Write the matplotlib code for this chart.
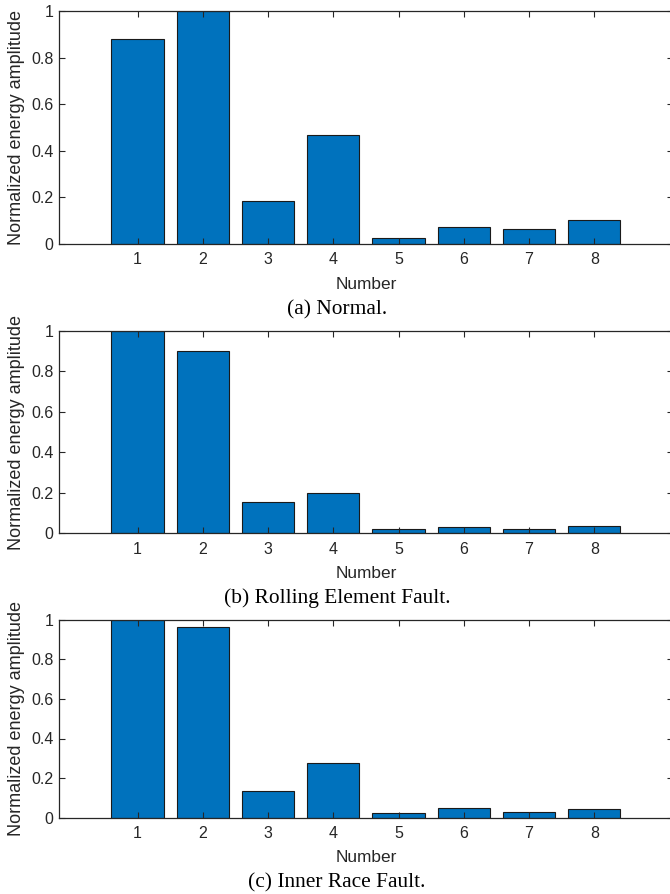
import matplotlib
matplotlib.use("Agg")
import matplotlib.pyplot as plt

numbers = [1, 2, 3, 4, 5, 6, 7, 8]
normal = [0.88, 1.00, 0.182, 0.465, 0.026, 0.073, 0.064, 0.102]
rolling_element = [1.00, 0.903, 0.155, 0.199, 0.023, 0.033, 0.023, 0.034]
inner_race = [1.00, 0.965, 0.136, 0.275, 0.022, 0.047, 0.029, 0.045]
y_ticks = [0, 0.2, 0.4, 0.6, 0.8, 1]
y_tick_labels = ["0", "0.2", "0.4", "0.6", "0.8", "1"]
captions = ["(a) Normal.", "(b) Rolling Element Fault.", "(c) Inner Race Fault."]

W, H = 670, 894
fig = plt.figure(figsize=(W / 100, H / 100), dpi=100)

BAR = "#0072BD"
INK = "#262626"
SANS = ["Liberation Sans", "Arial", "DejaVu Sans"]
SERIF = ["Liberation Serif", "Times New Roman", "DejaVu Serif"]

# pixel boxes (top, bottom) for each panel and y of caption / xlabel centres
panels = [
    (normal, 11.0, 243.7, 285, 310),
    (rolling_element, 331.0, 533.3, 574, 598),
    (inner_race, 619.7, 817.7, 858, 883),
]
left_px, right_px = 59.3, 672.6

for (vals, top, bot, xl_y, cap_y), cap in zip(panels, captions):
    ax = fig.add_axes([left_px / W, 1 - bot / H, (right_px - left_px) / W, (bot - top) / H])
    ax.bar(numbers, vals, width=0.8, color=BAR, edgecolor="#1a1a1a", linewidth=0.8, zorder=1)
    ax.set_xlim(-0.2, 9.2)
    ax.set_ylim(0, 1)
    ax.set_xticks(numbers)
    ax.set_xticklabels([str(n) for n in numbers])
    ax.set_yticks(y_ticks)
    ax.set_yticklabels(y_tick_labels)
    ax.tick_params(direction="in", length=4.3, width=0.8, colors=INK,
                   top=True, right=True, labelsize=11.5, pad=6)
    ax.tick_params(axis="y", pad=4)
    for lab in ax.get_xticklabels() + ax.get_yticklabels():
        lab.set_fontfamily(SANS)
    for sp in ax.spines.values():
        sp.set_color(INK)
        sp.set_linewidth(0.9)
    ax.set_ylabel("Normalized energy amplitude", fontsize=13.0, family=SANS,
                  color=INK, labelpad=4)
    ax.yaxis.set_label_coords(-(left_px - 17) / (right_px - left_px), 0.5)
    ax.yaxis.label.set_va("center")
    fig.text((left_px + right_px) / 2 / W, 1 - xl_y / H, "Number",
             fontsize=12.4, family=SANS, color=INK, ha="center", va="center")
    fig.text(337 / W, 1 - cap_y / H, cap, fontsize=15.4, family=SERIF,
             color="black", ha="center", va="center")

fig.savefig("out.png", dpi=100)
